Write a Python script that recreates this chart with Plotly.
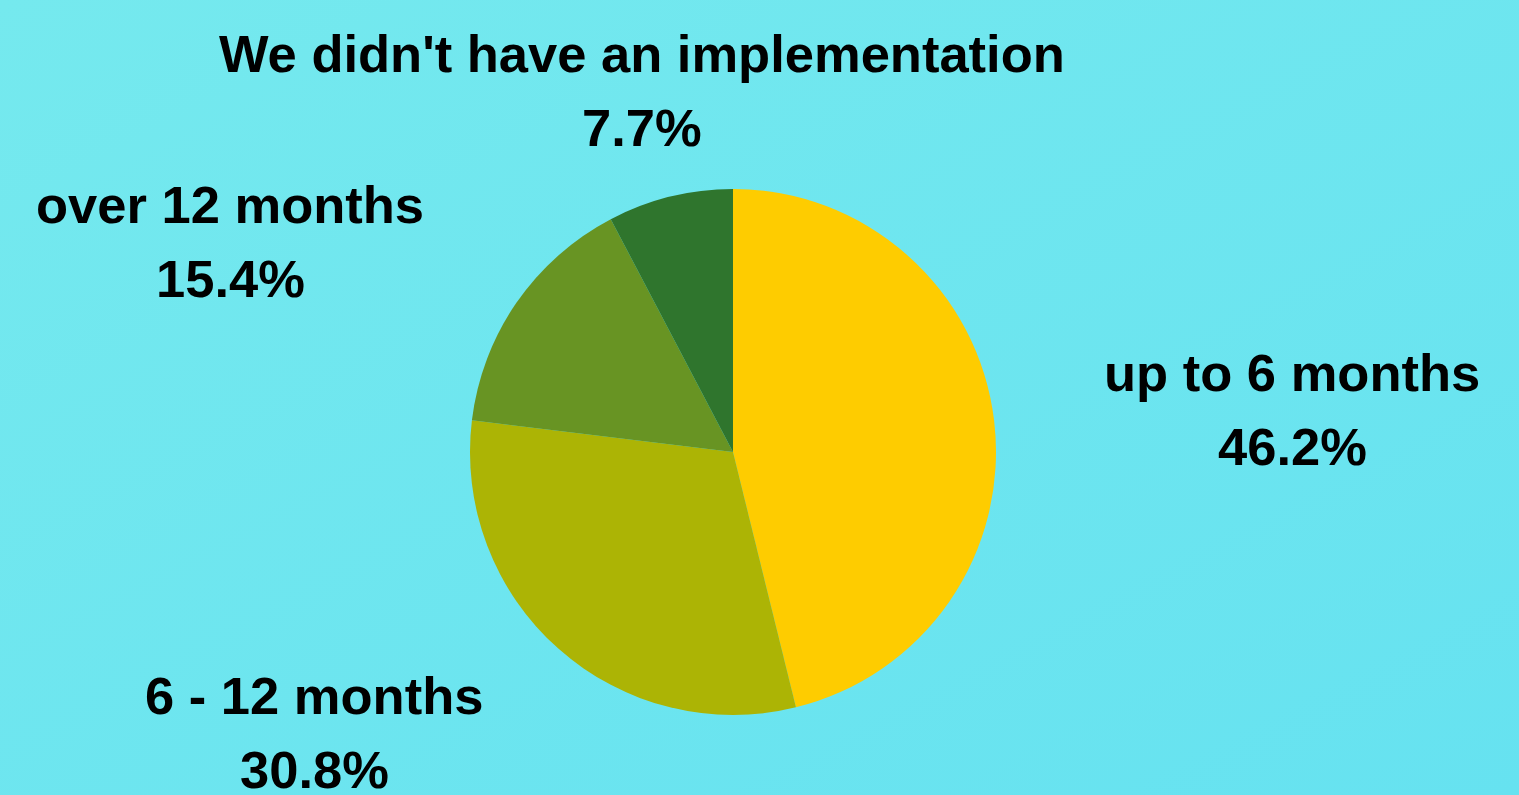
import plotly.graph_objects as go

categories = ["up to 6 months", "6 - 12 months", "over 12 months", "We didn't have an implementation"]
shares = [46.2, 30.8, 15.4, 7.7]
colors = ["#FECC00", "#ACB405", "#689423", "#2F752D"]

W, H = 1519, 795
# label centres in pixels (name line), per category
label_pos = [(1292, 372), (314, 695), (230, 205), (642, 54)]
line_gap = 74

fig = go.Figure()
fig.add_trace(go.Pie(
    labels=categories,
    values=shares,
    marker=dict(colors=colors, line=dict(width=0)),
    sort=False,
    direction="clockwise",
    rotation=0,
    textinfo="none",
    hoverinfo="label+percent",
    showlegend=False,
    domain=dict(x=[(733 - 263) / W, (733 + 263) / W], y=[1 - 715 / H, 1 - 189 / H]),
))

font = dict(family="Liberation Sans, Arial, sans-serif", size=52.5, color="#000000", weight="bold")
for cat, val, (px, py) in zip(categories, shares, label_pos):
    for text, yy in ((cat, py), (f"{val:.1f}%", py + line_gap)):
        fig.add_annotation(
            text=text, xref="paper", yref="paper",
            x=px / W, y=1 - yy / H, xanchor="center", yanchor="middle",
            showarrow=False, font=font,
        )

svg = (
    "data:image/svg+xml;utf8,"
    "<svg xmlns='http://www.w3.org/2000/svg' width='1519' height='795'>"
    "<defs><linearGradient id='g' x1='0' y1='0' x2='1' y2='1'>"
    "<stop offset='0' stop-color='%2375E9EE'/><stop offset='1' stop-color='%2366E2F0'/>"
    "</linearGradient></defs><rect width='1519' height='795' fill='url(%23g)'/></svg>"
)
fig.add_layout_image(dict(
    source=svg, xref="paper", yref="paper", x=0, y=1, sizex=1, sizey=1,
    xanchor="left", yanchor="top", sizing="stretch", layer="below",
))

fig.update_layout(
    width=W, height=H,
    margin=dict(l=0, r=0, t=0, b=0),
    paper_bgcolor="#6EE6EF",
    plot_bgcolor="rgba(0,0,0,0)",
)
fig.write_html("out.html", config={"displayModeBar": False})
